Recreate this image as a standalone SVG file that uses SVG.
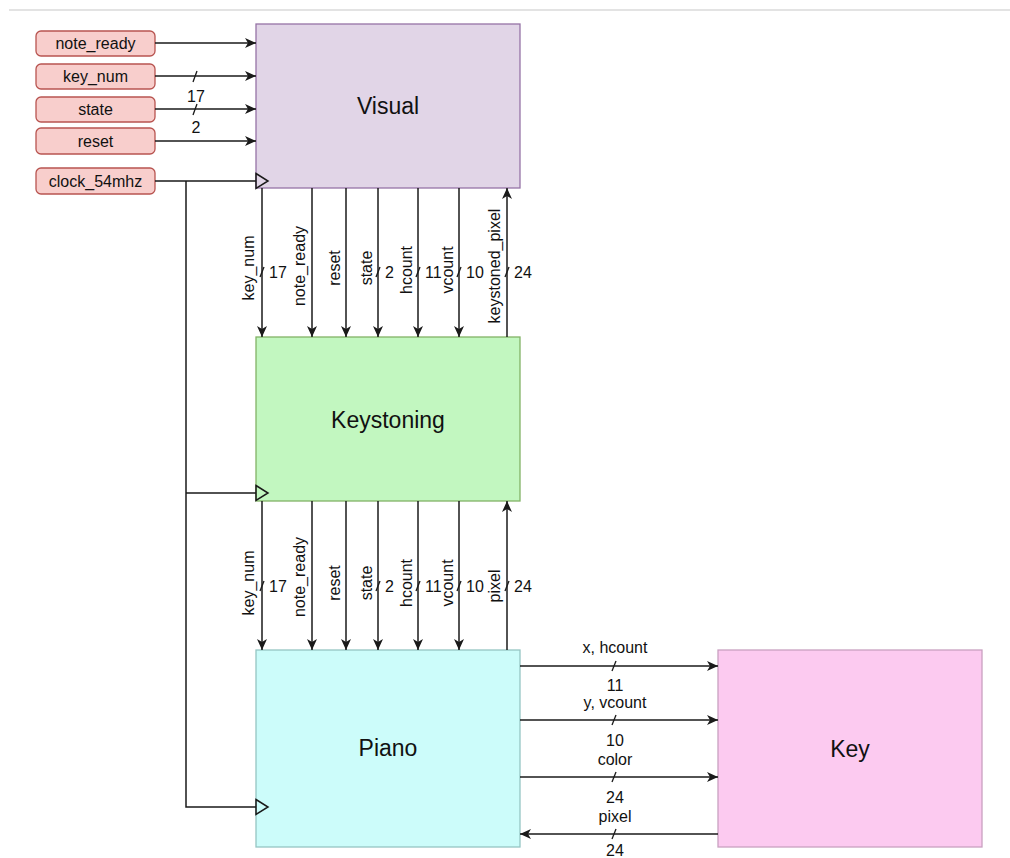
<svg xmlns="http://www.w3.org/2000/svg" width="1010" height="858" viewBox="0 0 1010 858">
<defs>
<style>
.lbl{font-family:"Liberation Sans",Arial,Helvetica,sans-serif;font-size:16px;fill:#111;}
.big{font-family:"Liberation Sans",Arial,Helvetica,sans-serif;font-size:23px;fill:#111;text-anchor:middle;dominant-baseline:central;}
.in rect{fill:#f8cecc;stroke:#b85450;stroke-width:1.3;}
.in text{text-anchor:middle;dominant-baseline:central;}
.w{stroke:#1a1a1a;stroke-width:1.5;fill:none;}
.arr{marker-end:url(#ah);}
.sl{stroke:#1a1a1a;stroke-width:1.3;}
.mid{text-anchor:middle;}
</style>
<marker id="ah" markerWidth="12" markerHeight="10" refX="11" refY="5" orient="auto" markerUnits="userSpaceOnUse">
<path d="M0,0 L11,5 L0,10 L3,5 Z" fill="#1a1a1a"/>
</marker>
</defs>
<rect width="1010" height="858" fill="#fff"/>
<line x1="9" y1="10" x2="1010" y2="10" stroke="#e3e3e3" stroke-width="2"/>

<g id="in-note_ready" class="in"><rect x="36" y="31" width="119" height="25" rx="5"/><text class="lbl" x="95.5" y="43.5">note_ready</text></g>
<g id="in-key_num" class="in"><rect x="36" y="64" width="119" height="25" rx="5"/><text class="lbl" x="95.5" y="76.5">key_num</text></g>
<g id="in-state" class="in"><rect x="36" y="97" width="119" height="25" rx="5"/><text class="lbl" x="95.5" y="109.5">state</text></g>
<g id="in-reset" class="in"><rect x="36" y="128" width="119" height="26" rx="5"/><text class="lbl" x="95.5" y="141">reset</text></g>
<g id="in-clock" class="in"><rect x="36" y="168" width="119" height="26" rx="5"/><text class="lbl" x="95.5" y="181">clock_54mhz</text></g>

<g id="visual"><rect x="256" y="24" width="264" height="164" fill="#e1d5e7" stroke="#9673a6" stroke-width="1.3"/><text class="big" x="388" y="106">Visual</text></g>
<g id="keystoning"><rect x="256" y="337" width="264" height="164" fill="#c2f7c0" stroke="#82b366" stroke-width="1.3"/><text class="big" x="388" y="420">Keystoning</text></g>
<g id="piano"><rect x="256" y="650" width="264" height="197" fill="#ccfcfa" stroke="#95c5c3" stroke-width="1.3"/><text class="big" x="388" y="748">Piano</text></g>
<g id="key"><rect x="718" y="650" width="264" height="197" fill="#fccaf0" stroke="#c9a0c0" stroke-width="1.3"/><text class="big" x="850" y="749">Key</text></g>

<g id="connectors">
<path class="w arr" d="M155,43 H256"/>
<path class="w arr" d="M155,76 H256"/>
<path class="w arr" d="M155,109 H256"/>
<path class="w arr" d="M155,141 H256"/>
<line class="sl" x1="193" y1="82" x2="197" y2="71"/>
<text class="lbl mid" x="196" y="102">17</text>
<line class="sl" x1="193" y1="115" x2="197" y2="104"/>
<text class="lbl mid" x="196" y="133">2</text>
<path class="w" d="M155,181 H256 M186,181 V807 H256 M186,493 H256"/>
<polygon class="w" points="256,173.5 268,181 256,188.5"/>
<polygon class="w" points="256,485.5 268,493 256,500.5"/>
<polygon class="w" points="256,799.5 268,807 256,814.5"/>

<path class="w arr" d="M262,188 V337"/>
<path class="w arr" d="M312,188 V337"/>
<path class="w arr" d="M346,188 V337"/>
<path class="w arr" d="M378,188 V337"/>
<path class="w arr" d="M418,188 V337"/>
<path class="w arr" d="M459,188 V337"/>
<path class="w arr" d="M507,337 V188"/>
<g class="lbl mid">
<text transform="translate(254,268) rotate(-90)">key_num</text>
<text transform="translate(305,266) rotate(-90)">note_ready</text>
<text transform="translate(340,268) rotate(-90)">reset</text>
<text transform="translate(372,268) rotate(-90)">state</text>
<text transform="translate(412,270) rotate(-90)">hcount</text>
<text transform="translate(453,270) rotate(-90)">vcount</text>
<text transform="translate(500,266) rotate(-90)">keystoned_pixel</text>
</g>
<g class="sl">
<line x1="260" y1="277" x2="264" y2="267"/>
<line x1="376" y1="277" x2="380" y2="267"/>
<line x1="416" y1="277" x2="420" y2="267"/>
<line x1="457" y1="277" x2="461" y2="267"/>
<line x1="505" y1="277" x2="509" y2="267"/>
</g>
<text class="lbl" x="269" y="278">17</text>
<text class="lbl" x="385" y="278">2</text>
<text class="lbl" x="425" y="278">11</text>
<text class="lbl" x="466" y="278">10</text>
<text class="lbl" x="514" y="278">24</text>

<path class="w arr" d="M262,501 V650"/>
<path class="w arr" d="M312,501 V650"/>
<path class="w arr" d="M346,501 V650"/>
<path class="w arr" d="M378,501 V650"/>
<path class="w arr" d="M418,501 V650"/>
<path class="w arr" d="M459,501 V650"/>
<path class="w arr" d="M507,650 V501"/>
<g class="lbl mid">
<text transform="translate(254,583) rotate(-90)">key_num</text>
<text transform="translate(305,577) rotate(-90)">note_ready</text>
<text transform="translate(340,583) rotate(-90)">reset</text>
<text transform="translate(372,583) rotate(-90)">state</text>
<text transform="translate(412,583) rotate(-90)">hcount</text>
<text transform="translate(453,583) rotate(-90)">vcount</text>
<text transform="translate(500,586) rotate(-90)">pixel</text>
</g>
<g class="sl">
<line x1="260" y1="591" x2="264" y2="581"/>
<line x1="376" y1="591" x2="380" y2="581"/>
<line x1="416" y1="591" x2="420" y2="581"/>
<line x1="457" y1="591" x2="461" y2="581"/>
<line x1="505" y1="591" x2="509" y2="581"/>
</g>
<text class="lbl" x="269" y="592">17</text>
<text class="lbl" x="385" y="592">2</text>
<text class="lbl" x="425" y="592">11</text>
<text class="lbl" x="466" y="592">10</text>
<text class="lbl" x="514" y="592">24</text>

<path class="w arr" d="M520,666 H718"/>
<path class="w arr" d="M520,720 H718"/>
<path class="w arr" d="M520,777 H718"/>
<path class="w arr" d="M718,834 H520"/>
<g class="sl">
<line x1="612" y1="671" x2="616" y2="661"/>
<line x1="612" y1="725" x2="616" y2="715"/>
<line x1="612" y1="782" x2="616" y2="772"/>
<line x1="612" y1="839" x2="616" y2="829"/>
</g>
<g class="lbl mid">
<text x="615" y="653">x, hcount</text>
<text x="615" y="691">11</text>
<text x="615" y="708">y, vcount</text>
<text x="615" y="746">10</text>
<text x="615" y="765">color</text>
<text x="615" y="803">24</text>
<text x="615" y="822">pixel</text>
<text x="615" y="856">24</text>
</g>
</g>
</svg>
